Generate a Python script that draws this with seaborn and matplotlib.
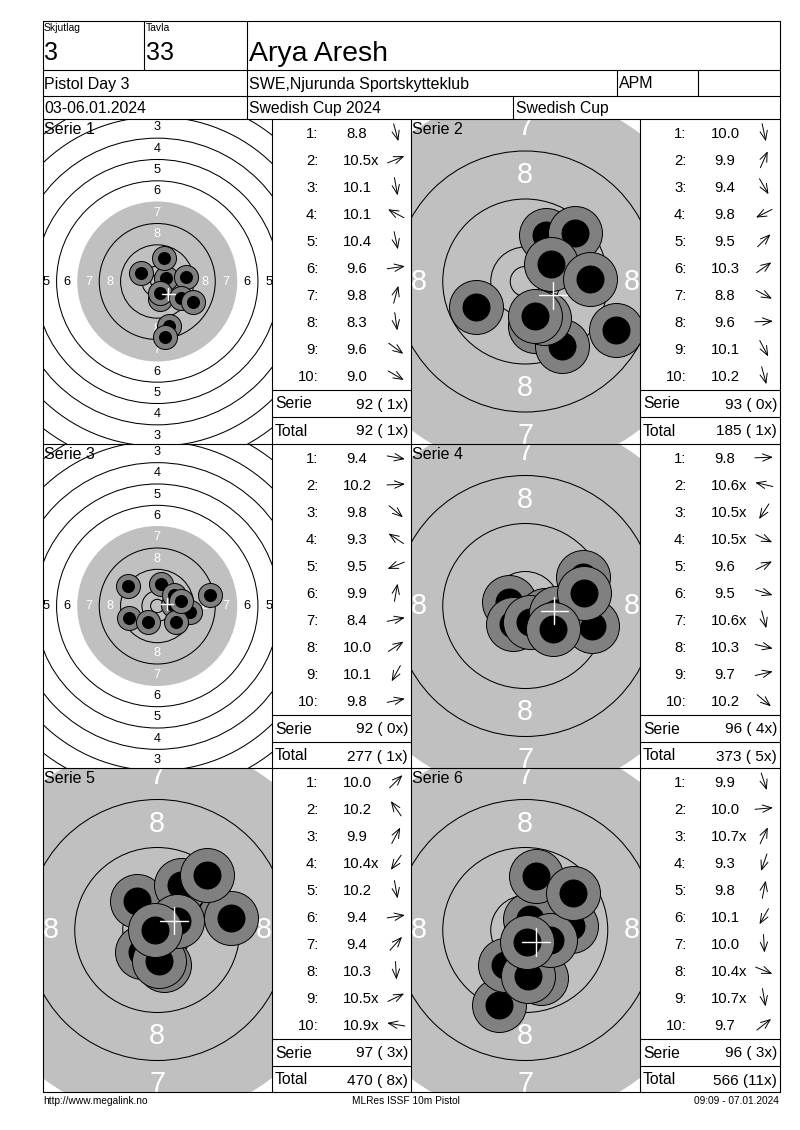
import numpy as np
import matplotlib
matplotlib.use("Agg")
import matplotlib.pyplot as plt
from matplotlib import font_manager
from matplotlib.patches import Circle
import seaborn as sns

# ---- header / footer texts
relay = "3"
lane = "33"
shooter = "Arya Aresh"
event = "Pistol Day 3"
club = "SWE,Njurunda Sportskytteklub"
shooter_class = "APM"
dates = "03-06.01.2024"
competition = "Swedish Cup 2024"
cup = "Swedish Cup"
footer_left = "http://www.megalink.no"
footer_mid = "MLRes ISSF 10m Pistol"
footer_right = "09:09 - 07.01.2024"

# ---- shot values (text as printed) and direction (deg, read from arrows)
scores_1 = ["8.8", "10.5x", "10.1", "10.1", "10.4", "9.6", "9.8", "8.3", "9.6", "9.0"]
scores_2 = ["10.0", "9.9", "9.4", "9.8", "9.5", "10.3", "8.8", "9.6", "10.1", "10.2"]
scores_3 = ["9.4", "10.2", "9.8", "9.3", "9.5", "9.9", "8.4", "10.0", "10.1", "9.8"]
scores_4 = ["9.8", "10.6x", "10.5x", "10.5x", "9.6", "9.5", "10.6x", "10.3", "9.7", "10.2"]
scores_5 = ["10.0", "10.2", "9.9", "10.4x", "10.2", "9.4", "9.4", "10.3", "10.5x", "10.9x"]
scores_6 = ["9.9", "10.0", "10.7x", "9.3", "9.8", "10.1", "10.0", "10.4x", "10.7x", "9.7"]

angles_1 = [-75, 22, -80, 152, -78, 8, 75, -82, -36, -30]
angles_2 = [-78, 66, -60, 207, 44, 35, -28, 2, -62, -75]
angles_3 = [-10, 3, -40, 146, 202, 80, 12, 33, 241, 12]
angles_4 = [2, 167, 237, -25, 27, -17, -75, -13, 13, -40]
angles_5 = [45, 125, 62, 235, -80, 9, 48, -87, 26, 170]
angles_6 = [-72, 5, 65, 251, 79, 240, -87, -22, -80, 38]

all_scores = [scores_1, scores_2, scores_3, scores_4, scores_5, scores_6]
all_angles = [angles_1, angles_2, angles_3, angles_4, angles_5, angles_6]
view_scale = [2.667, 6.0, 2.667, 6.0, 6.0, 6.0]   # px per mm of each target view
view_mark = [30.0, 31.2, 30.0, 31.2, 31.2, 31.2]  # drawn radius of the grey aiming mark

# ISSF 10m air pistol target (mm)
ring_numbers = [1, 2, 3, 4, 5, 6, 7, 8, 9, 10]
ring_radius = [77.75, 69.75, 61.75, 53.75, 45.75, 37.75, 29.75, 21.75, 13.75, 5.75]
inner_ten = 2.5
pellet_r = 2.25
halo_r = 4.5

W, H = 800, 1130
sns.set_theme(style="white")
plt.rcParams["font.family"] = ["Liberation Sans", "DejaVu Sans"]
installed = {f.name for f in font_manager.fontManager.ttflist}
if "Liberation Sans Narrow" in installed:
    foot_font, foot_size = "Liberation Sans Narrow", 8.5
else:
    foot_font, foot_size = "Liberation Sans", 7.3

fig = plt.figure(figsize=(W / 100, H / 100), dpi=100, facecolor="white")


def px_axes(x0, y0, x1, y1, z=1):
    return fig.add_axes([x0 / W, 1 - y1 / H, (x1 - x0) / W, (y1 - y0) / H], zorder=z)


def distance(s):
    v = float(s.rstrip("x"))
    return (10.95 - v) * 8.0


def draw_target(ax, scores, angles, scale, mark, w, h):
    ax.axis("off")
    ax.add_patch(Circle((0, 0), mark, fc="#c0c0c0", ec="none", zorder=1))
    for k, r in zip(ring_numbers, ring_radius):
        if k != 7:
            ax.add_patch(Circle((0, 0), r, fill=False, ec="black", lw=0.75, zorder=2))
    ax.add_patch(Circle((0, 0), inner_ten, fill=False, ec="black", lw=0.75, zorder=2))
    for k, r in zip(ring_numbers[:8], ring_radius[:8]):
        rr = r - 4.0
        col = "white" if k >= 7 else "black"
        for (tx, ty) in [(0, rr), (0, -rr), (-rr, 0), (rr, 0)]:
            ax.text(tx, ty, str(k), ha="center", va="center", color=col,
                    fontsize=3.45 * scale, clip_on=True, zorder=2)
    d = np.array([distance(s) for s in scores])
    a = np.radians(angles)
    xs, ys = d * np.cos(a), d * np.sin(a)
    s_halo = (2 * halo_r * scale * 0.72) ** 2
    s_pel = (2 * pellet_r * scale * 0.72) ** 2
    for i in range(len(xs)):
        sns.scatterplot(x=[xs[i]], y=[ys[i]], s=s_halo, color="#808080", edgecolor="black",
                        linewidth=0.7, zorder=10 + 2 * i, ax=ax, legend=False)
        sns.scatterplot(x=[xs[i]], y=[ys[i]], s=s_pel, color="black", edgecolor="black",
                        linewidth=0.7, zorder=11 + 2 * i, ax=ax, legend=False)
    mx, my = xs.mean(), ys.mean()
    ax.plot([mx - 2.3, mx + 2.3], [my, my], color="white", lw=1, zorder=100)
    ax.plot([mx, mx], [my - 2.3, my + 2.3], color="white", lw=1, zorder=100)
    ax.set_xlim(-w / 2 / scale, w / 2 / scale)
    ax.set_ylim(-h / 2 / scale, h / 2 / scale)


# overlay for frame and texts (pixel coords)
ov = px_axes(0, 0, W, H, z=10)
ov.set_xlim(0, W)
ov.set_ylim(H, 0)
ov.axis("off")
ov.patch.set_alpha(0)

L, R = 42.5, 779.5
row_tops = [119, 444, 768]
bottom = 1092
cols = [(42.5, 272, 410.5), (410.5, 640, 779.5)]
lw = 0.8


def hline(y, x0=L, x1=R):
    ov.plot([x0, x1], [y, y], color="black", lw=lw)


def vline(x, y0, y1):
    ov.plot([x, x], [y0, y1], color="black", lw=lw)


for y in [21, 70, 96] + row_tops + [bottom]:
    hline(y)
vline(L, 21, bottom)
vline(R, 21, bottom)
vline(143.5, 21, 70)
vline(246.5, 21, 119)
vline(616.5, 70, 96)
vline(698, 70, 96)
vline(513, 96, 119)
for x in [272, 410.5, 640]:
    vline(x, 119, bottom)

# header texts
ov.text(44, 31, "Skjutlag", fontsize=7.5, color="black")
ov.text(146, 31, "Tavla", fontsize=7.5, color="black")
ov.text(44, 60.5, relay, fontsize=18, color="black")
ov.text(146, 60.5, lane, fontsize=18, color="black")
ov.text(249, 61, shooter, fontsize=20.5, color="black")
ov.text(44, 88.5, event, fontsize=11.5, color="black")
ov.text(249, 88.5, club, fontsize=11.5, color="black")
ov.text(619, 88.5, shooter_class, fontsize=11.5, color="black")
ov.text(44, 113.3, dates, fontsize=11.3, color="black")
ov.text(249, 113.3, competition, fontsize=11.3, color="black")
ov.text(516, 113.3, cup, fontsize=11.3, color="black")

# series
total = 0
total_x = 0
for n in range(6):
    row = n // 2
    tx0, tx1, lx1 = cols[n % 2]
    top = row_tops[row]
    bot = row_tops[row + 1] if row < 2 else bottom
    scores = all_scores[n]
    angles = all_angles[n]
    tax = px_axes(tx0, top, tx1, bot, z=1)
    draw_target(tax, scores, angles, view_scale[n], view_mark[n], tx1 - tx0, bot - top)
    ov.text(tx0 + 1.5, top + 15.3, f"Serie {n + 1}", fontsize=11.5, color="black", zorder=5)

    lx0 = tx1
    for i, s in enumerate(scores):
        yb = top + 18.7 + 27 * i
        yc = top + 13.5 + 27 * i
        ov.text(lx0 + 46.5, yb, f"{i + 1}:", ha="right", fontsize=10.7, color="black")
        num = s.rstrip("x")
        if s.endswith("x"):
            ov.text(lx0 + 85 - 14.3, yb, s, ha="left", fontsize=10.7, color="black")
        else:
            ov.text(lx0 + 85, yb, num, ha="center", fontsize=10.7, color="black")
        a = np.radians(angles[i])
        dx, dy = 9 * np.cos(a), -9 * np.sin(a)
        ov.annotate("", xy=(lx0 + 124 + dx, yc + dy), xytext=(lx0 + 124 - dx, yc - dy),
                    arrowprops=dict(arrowstyle="->,head_length=0.55,head_width=0.22",
                                    lw=0.7, color="black", shrinkA=0, shrinkB=0))
    serie_sum = sum(int(float(s.rstrip("x"))) for s in scores)
    serie_x = sum(s.endswith("x") for s in scores)
    total += serie_sum
    total_x += serie_x
    hline(top + 271, lx0, lx1)
    hline(top + 298, lx0, lx1)
    ov.text(lx0 + 3, top + 289.5, "Serie", fontsize=11.3, color="black")
    ov.text(lx1 - 2.5, top + 289.5, f"{serie_sum} ({serie_x:2d}x)", ha="right", fontsize=11.1, color="black")
    ov.text(lx0 + 3, top + 316.5, "Total", fontsize=11.3, color="black")
    ov.text(lx1 - 2.5, top + 316.5, f"{total} ({total_x:2d}x)", ha="right", fontsize=11.1, color="black")

# footer
ov.text(43, 1104, footer_left, fontsize=foot_size, family=foot_font, color="black")
ov.text(406, 1104, footer_mid, fontsize=foot_size, family=foot_font, ha="center", color="black")
ov.text(779, 1104, footer_right, fontsize=foot_size, family=foot_font, ha="right", color="black")

fig.savefig("out.png", dpi=100, facecolor="white")
